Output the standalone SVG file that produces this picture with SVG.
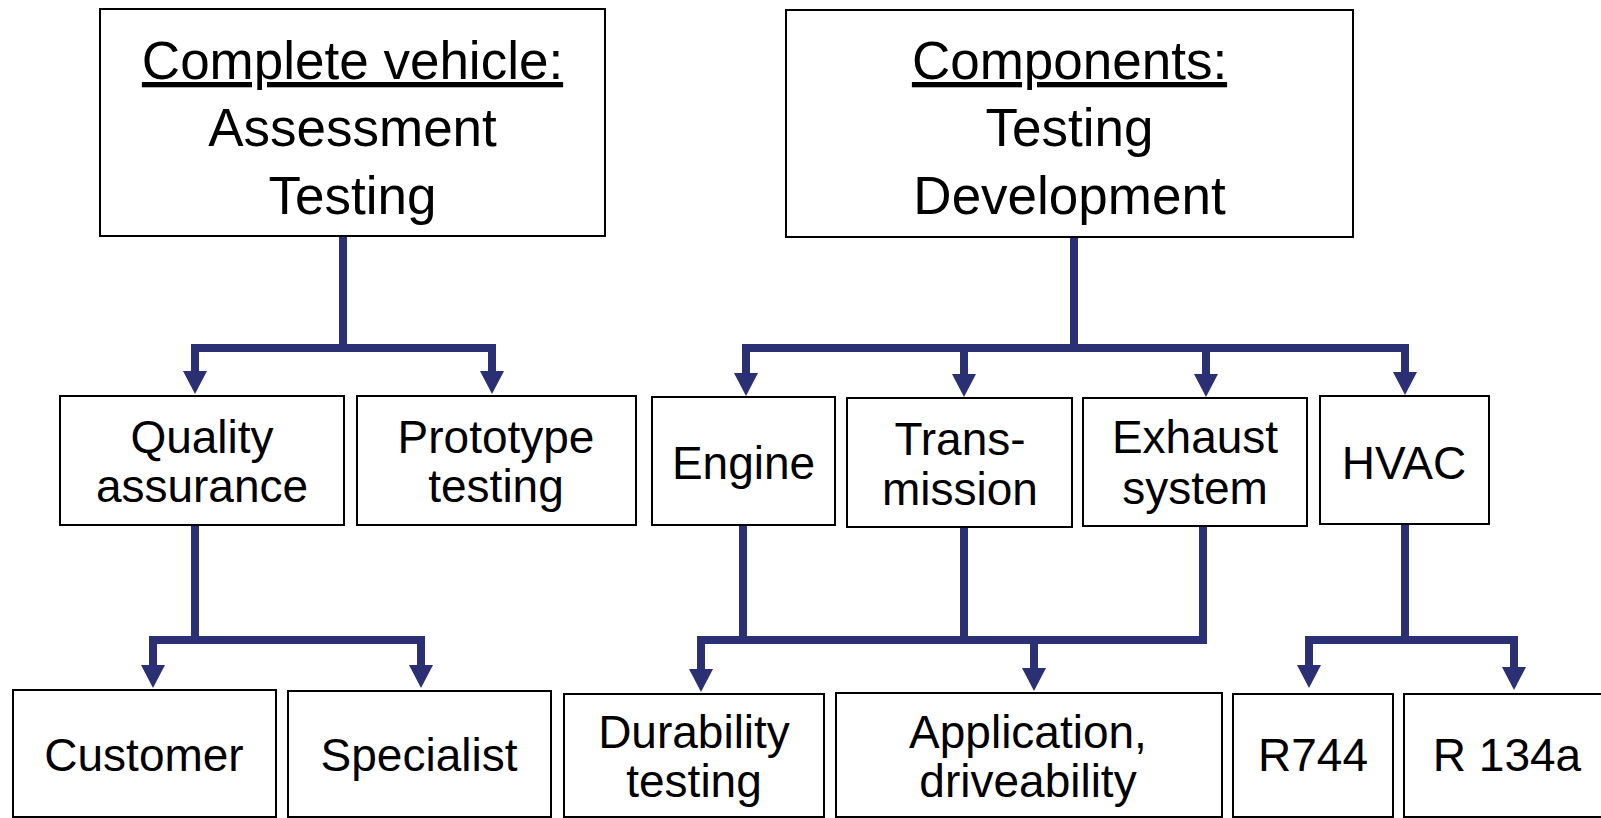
<svg xmlns="http://www.w3.org/2000/svg" width="1601" height="818" viewBox="0 0 1601 818">
<style>
.box{fill:#fff;stroke:#000;stroke-width:2}
.t{font-family:"Liberation Sans",Arial,sans-serif;fill:#000;text-anchor:middle}
.h{font-size:53px}
.s{font-size:46px}
.u{text-decoration:underline}
.conn path{fill:none;stroke:#2b2f73;stroke-width:8;stroke-linejoin:miter;marker-end:url(#ah)}
.conn path.n{marker-end:none}
</style>
<defs>
<marker id="ah" markerUnits="userSpaceOnUse" viewBox="0 0 23 24" markerWidth="23" markerHeight="24" refX="1" refY="12" orient="auto">
<path d="M0,0 L23,12 L0,24 Z" fill="#2b2f73"/>
</marker>
</defs>
<rect width="1601" height="818" fill="#fff"/>

<g class="conn" id="connectors">
<path d="M343,237 V348 H195 V372"/>
<path d="M343,348 H492 V372"/>
<path d="M1074,237 V348 H746 V374"/>
<path d="M1074,348 H1405 V373"/>
<path d="M964,348 V375"/>
<path d="M1206,348 V375"/>
<path d="M195,526 V640 H153 V666"/>
<path d="M195,640 H421 V666"/>
<path class="n" d="M743,526 V640"/>
<path class="n" d="M964,528 V640"/>
<path d="M1203,527 V640 H701 V670"/>
<path d="M1034,640 V669"/>
<path d="M1405,525 V640 H1309 V666"/>
<path d="M1405,640 H1514 V668"/>
</g>

<g id="complete-vehicle">
<rect class="box" x="100" y="9" width="505" height="227"/>
<text class="t h u" x="352.5" y="79">Complete vehicle:</text>
<text class="t h" x="352.5" y="146">Assessment</text>
<text class="t h" x="352.5" y="214">Testing</text>
</g>
<g id="components">
<rect class="box" x="786" y="10" width="567" height="227"/>
<text class="t h u" x="1069.5" y="79">Components:</text>
<text class="t h" x="1069.5" y="146">Testing</text>
<text class="t h" x="1069.5" y="214">Development</text>
</g>

<g id="quality-assurance">
<rect class="box" x="60" y="396" width="284" height="129"/>
<text class="t s" x="202" y="453">Quality</text>
<text class="t s" x="202" y="502">assurance</text>
</g>
<g id="prototype-testing">
<rect class="box" x="357" y="396" width="279" height="129"/>
<text class="t s" x="496" y="453">Prototype</text>
<text class="t s" x="496" y="502">testing</text>
</g>
<g id="engine">
<rect class="box" x="652" y="397" width="183" height="128"/>
<text class="t s" x="743.5" y="479">Engine</text>
</g>
<g id="transmission">
<rect class="box" x="847" y="398" width="225" height="129"/>
<text class="t s" x="960" y="455">Trans-</text>
<text class="t s" x="960" y="505">mission</text>
</g>
<g id="exhaust-system">
<rect class="box" x="1083" y="398" width="224" height="128"/>
<text class="t s" x="1195" y="453">Exhaust</text>
<text class="t s" x="1195" y="504">system</text>
</g>
<g id="hvac">
<rect class="box" x="1320" y="396" width="169" height="128"/>
<text class="t s" x="1404" y="479">HVAC</text>
</g>

<g id="customer">
<rect class="box" x="13" y="690" width="263" height="127"/>
<text class="t s" x="144" y="771">Customer</text>
</g>
<g id="specialist">
<rect class="box" x="288" y="691" width="263" height="126"/>
<text class="t s" x="419" y="771">Specialist</text>
</g>
<g id="durability-testing">
<rect class="box" x="564" y="694" width="260" height="123"/>
<text class="t s" x="694" y="748">Durability</text>
<text class="t s" x="694" y="797">testing</text>
</g>
<g id="application-driveability">
<rect class="box" x="836" y="693" width="386" height="124"/>
<text class="t s" x="1028" y="748">Application,</text>
<text class="t s" x="1028" y="797">driveability</text>
</g>
<g id="r744">
<rect class="box" x="1233" y="694" width="160" height="123"/>
<text class="t s" x="1313" y="771">R744</text>
</g>
<g id="r134a">
<rect class="box" x="1404" y="694" width="208" height="123"/>
<text class="t s" x="1507" y="771">R 134a</text>
</g>
</svg>
